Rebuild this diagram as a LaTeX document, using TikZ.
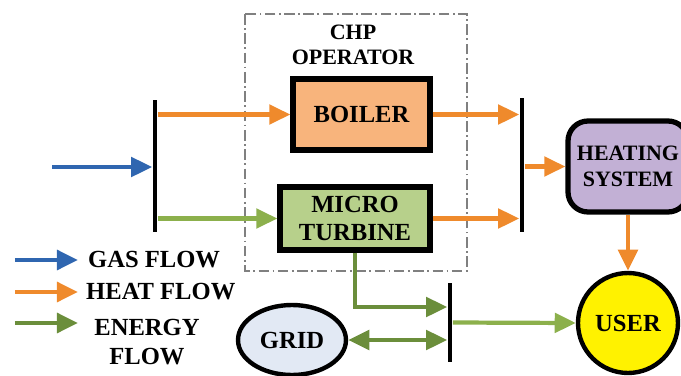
\documentclass[tikz,border=0pt]{standalone}
\usepackage{fontspec}
\setmainfont{Liberation Serif}
\usetikzlibrary{arrows.meta,shapes.geometric}
\definecolor{heatc}{HTML}{EF8A2C}
\definecolor{gasc}{HTML}{2F66B0}
\definecolor{elecl}{HTML}{8CB04C}
\definecolor{elecd}{HTML}{6B8E3B}
\definecolor{boilc}{HTML}{F8B47C}
\definecolor{mtc}{HTML}{B7D08B}
\definecolor{hsysc}{HTML}{C2B0D5}
\definecolor{gridc}{HTML}{E2E9F4}
\begin{document}
\begin{tikzpicture}[x=0.02cm,y=-0.02cm,
  font=\fontsize{14}{16}\selectfont\bfseries,
  small/.style={font=\fontsize{12.5}{14.5}\selectfont\bfseries},
  block/.style={draw,line width=3pt,align=center},
  bus/.style={fill=black,inner sep=0pt,minimum width=2.8pt,minimum height=#1},
  tip/.style={-{Triangle[length=12pt,width=11pt]}},
  heat/.style={heatc,line width=2.4pt,tip},
  gas/.style={gasc,line width=2.4pt,tip},
  elec/.style={elecl,line width=2.4pt,tip},
  elecdk/.style={elecd,line width=2.4pt,tip}]
\useasboundingbox (0,0) rectangle (681,376);
\draw[gray,line width=1pt,dash pattern=on 6pt off 2pt on 1pt off 2pt] (245,14) rectangle (467,271);
\node[small,align=center] (chp) at (353,45) {CHP\\OPERATOR};
\node[bus=2.64cm] (bus1) at (155,166) {};
\node[bus=2.68cm] (bus2) at (522,165) {};
\node[bus=1.58cm] (bus3) at (450,322.5) {};
\node[block,fill=boilc,minimum width=2.74cm,minimum height=1.42cm] (boiler) at (361.5,114.5) {BOILER};
\node[block,fill=mtc,minimum width=3cm,minimum height=1.26cm,inner sep=1pt] (mt) at (355,218.5) {MICRO\\TURBINE};
\node[block,small,rounded corners=0.4cm,fill=hsysc,minimum width=2.4cm,minimum height=1.82cm,inner sep=1pt] (heating) at (628,166.5) {HEATING\\SYSTEM};
\node[circle,draw,line width=2.5pt,fill=yellow,minimum size=2cm] (user) at (628,323) {USER};
\node[ellipse,draw,line width=2.5pt,fill=gridc,minimum width=2.16cm,minimum height=1.4cm] (grid) at (292,340) {GRID};
\coordinate (gasin) at (52,167);
\draw[gas] (gasin) -- (gasin -| bus1.west);
\draw[heat] (bus1.east |- boiler.west) -- (boiler.west);
\draw[elec] (bus1.east |- mt.west) -- (mt.west);
\draw[heat] (boiler.east) -- (boiler.east -| bus2.west);
\draw[heat] (mt.east) -- (mt.east -| bus2.west);
\draw[heat] (bus2.east |- heating.west) -- (heating.west);
\draw[heat] (heating.south) -- (user.north);
\draw[elecdk] (mt.south) |- ([yshift=0.31cm]bus3.west);
\draw[elecdk,{Triangle[length=12pt,width=11pt]}-{Triangle[length=12pt,width=11pt]}] (grid.east) -- (grid.east -| bus3.west);
\draw[elec] (bus3.east) -- (user.west);
\coordinate (lg1) at (15,260);
\coordinate (lg2) at (78,260);
\coordinate (lh1) at (15,292);
\coordinate (lh2) at (78,292);
\coordinate (le1) at (15,323);
\coordinate (le2) at (78,323);
\draw[gas,line width=2.8pt] (lg1) -- (lg2);
\draw[heat,line width=2.8pt] (lh1) -- (lh2);
\draw[elecdk,line width=2.8pt] (le1) -- (le2);
\node[anchor=west] (lgas) at (82,260) {GAS FLOW};
\node[anchor=west] (lheat) at (80,292) {HEAT FLOW};
\node[align=center] (lenergy) at (147,342) {ENERGY\\FLOW};
\end{tikzpicture}
\end{document}
